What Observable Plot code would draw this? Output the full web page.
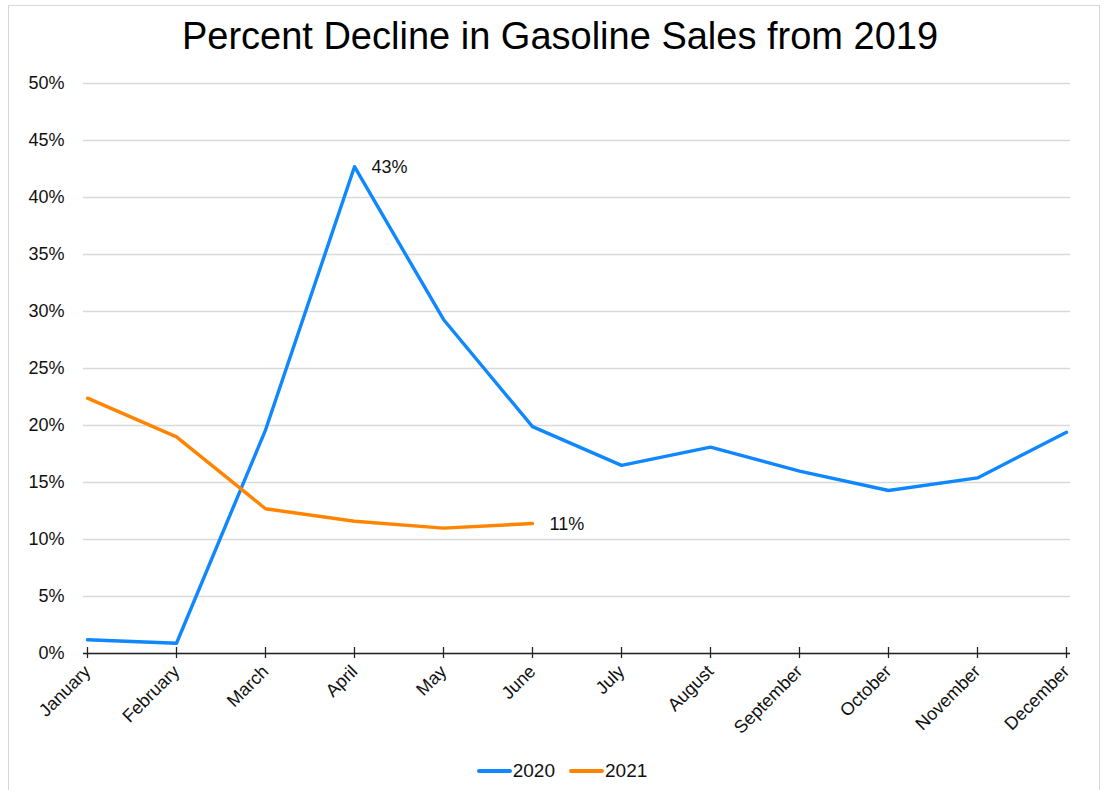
<!DOCTYPE html>
<html>
<head>
<meta charset="utf-8">
<script src="https://cdn.jsdelivr.net/npm/d3@7"></script>
<script src="https://cdn.jsdelivr.net/npm/@observablehq/plot@0.6"></script>
<style>
  html, body { margin: 0; padding: 0; background: #fff; }
  body { width: 1106px; height: 790px; position: relative; overflow: hidden; font-family: "Liberation Sans", Arial, sans-serif; }
  #frame { position: absolute; left: 8px; top: 5px; width: 1092px; height: 800px; border: 1px solid #d8d8d8; box-sizing: border-box; }
  #title { position: absolute; left: 0; top: 15px; width: 1120px; text-align: center; font-size: 38px; color: #000; }
  #chart { position: absolute; left: 0; top: 70px; }
  #legend { position: absolute; left: 0; top: 760px; width: 1124px; display: flex; justify-content: center; align-items: center; font-size: 19px; color: #111; gap: 14px; }
  .sw { display: inline-block; width: 35px; height: 4px; border-radius: 2px; margin-right: 1px; }
</style>
</head>
<body>
<div id="frame"></div>
<div id="title">Percent Decline in Gasoline Sales from 2019</div>
<div id="chart"></div>
<div id="legend"></div>
<script>
const months = ["January","February","March","April","May","June","July","August","September","October","November","December"];
const series2020 = [0.012, 0.009, 0.196, 0.427, 0.293, 0.199, 0.165, 0.181, 0.160, 0.143, 0.154, 0.194];
const series2021 = [0.224, 0.190, 0.127, 0.116, 0.110, 0.114];
const seriesNames = ["2020", "2021"];
const colors = ["#0F87FF", "#FF8500"];
const yTicks = [0, 0.05, 0.10, 0.15, 0.20, 0.25, 0.30, 0.35, 0.40, 0.45, 0.50];
const annotations = [
  {series: "2020", month: "April", value: 0.427, label: "43%"},
  {series: "2021", month: "June", value: 0.114, label: "11%"}
];

const rows = [];
series2020.forEach((v, i) => rows.push({series: "2020", month: months[i], value: v}));
series2021.forEach((v, i) => rows.push({series: "2021", month: months[i], value: v}));

const chart = Plot.plot({
  width: 1106,
  height: 680,
  marginTop: 13,
  marginBottom: 97,
  marginLeft: 83,
  marginRight: 36,
  style: {fontFamily: "'Liberation Sans', Arial, sans-serif", fontSize: "18px", color: "#000", background: "transparent"},
  x: {type: "point", domain: months, padding: 0, label: null},
  y: {type: "linear", domain: [0, 0.5], label: null},
  color: {domain: seriesNames, range: colors},
  marks: [
    Plot.gridY(yTicks, {stroke: "#d9d9d9", strokeOpacity: 1, strokeWidth: 1.3}),
    Plot.axisY(yTicks, {tickSize: 0, tickPadding: 19, tickFormat: d3.format(".0%"), fontSize: 18, fill: "#111", label: null}),
    Plot.ruleY([0], {stroke: "#222", strokeWidth: 1.5}),
    Plot.ruleX(months, {x: d => d, y1: 0, y2: 0, insetTop: -6, stroke: "#222", strokeWidth: 1.3}),
    Plot.axisX(months, {tickSize: 5, tickPadding: 10, tickRotate: -45, textAnchor: "end", fontSize: 18, fill: "#111", label: null, stroke: "#222", strokeWidth: 1.3}),
    Plot.lineY(rows, {x: "month", y: "value", z: "series", stroke: "series", strokeWidth: 3.4, strokeLinejoin: "round"}),
    Plot.text(annotations, {x: "month", y: "value", text: "label", textAnchor: "start", dx: 17, dy: 1, fontSize: 18, fill: "#111"})
  ]
});
document.getElementById("chart").appendChild(chart);

const leg = document.getElementById("legend");
seriesNames.forEach((s, i) => {
  const item = document.createElement("span");
  item.style.display = "inline-flex";
  item.style.alignItems = "center";
  item.innerHTML = `<span class="sw" style="background:${colors[i]}"></span>${s}`;
  leg.appendChild(item);
});
</script>
</body>
</html>
